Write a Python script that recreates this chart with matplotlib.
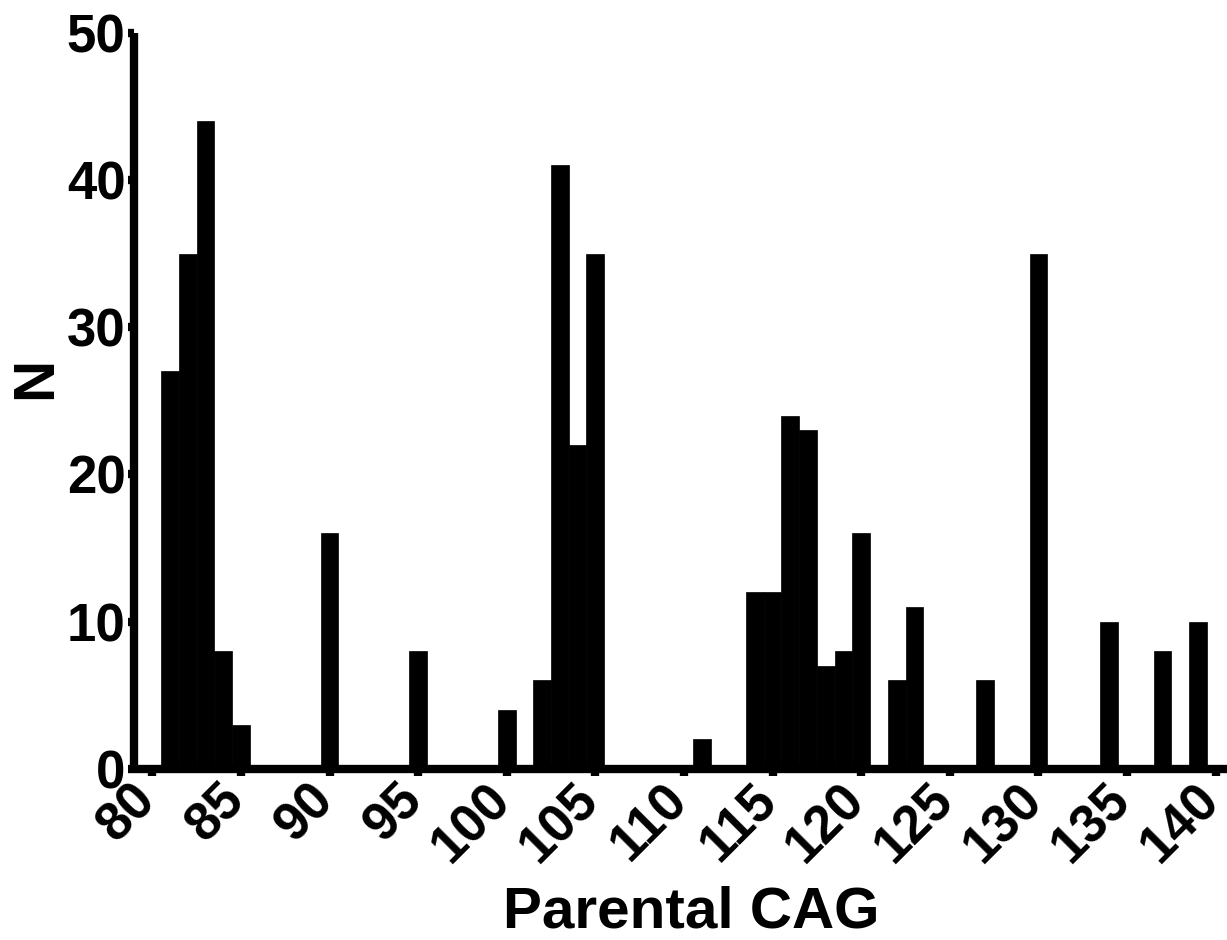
import matplotlib.pyplot as plt
import matplotlib.transforms as mtransforms

# counts per parental CAG length (only non-zero bins)
cag = [81, 82, 83, 84, 85, 90, 95, 100, 102, 103, 104, 105, 111,
       114, 115, 116, 117, 118, 119, 120, 122, 123, 127, 130, 134, 137, 139]
n = [27, 35, 44, 8, 3, 16, 8, 4, 6, 41, 22, 35, 2,
     12, 12, 24, 23, 7, 8, 16, 6, 11, 6, 35, 10, 8, 10]

x_ticks = list(range(80, 141, 5))
y_ticks = [0, 10, 20, 30, 40, 50]

plt.rcParams['font.family'] = ['Liberation Sans', 'DejaVu Sans']
plt.rcParams['font.weight'] = 'bold'

fig = plt.figure(figsize=(12.27, 9.4), dpi=100)
ax = fig.add_axes([134.2 / 1227, 171.3 / 940, 1092.8 / 1227, 735.7 / 940])

# histogram bars, width 1 centred on each CAG value
ax.bar(cag, n, width=1.0, color="black", edgecolor="black", linewidth=0.5)

ax.set_xlim(78.98, 140.64)
ax.set_ylim(0, 50)

for side in ["top", "right"]:
    ax.spines[side].set_visible(False)
for side in ["left", "bottom"]:
    ax.spines[side].set_linewidth(6)
    ax.spines[side].set_capstyle("butt")

ax.set_xticks(x_ticks)
ax.set_yticks(y_ticks)
ax.tick_params(axis="x", width=6, length=5.2, labelsize=38, pad=12)
ax.tick_params(axis="y", width=6, length=4.3, labelsize=38, pad=2)
# nudge rotated labels a bit to the left so "140" stays inside
shift = mtransforms.ScaledTranslation(-3 / 72, 0, fig.dpi_scale_trans)
for lab in ax.get_xticklabels():
    lab.set_rotation(45)
    lab.set_ha("right")
    lab.set_va("center")
    lab.set_rotation_mode("anchor")
    lab.set_fontweight("bold")
    lab.set_transform(lab.get_transform() + shift)
for lab in ax.get_yticklabels():
    lab.set_fontweight("bold")

ax.set_xlabel("Parental CAG", fontsize=42, fontweight="bold", va="baseline")
ax.xaxis.set_label_coords(0.5095, -0.2155)
ax.set_ylabel("N", fontsize=42, fontweight="bold", va="center")
ax.yaxis.set_label_coords(-0.090, 0.531)

plt.savefig("out.png", dpi=100)
